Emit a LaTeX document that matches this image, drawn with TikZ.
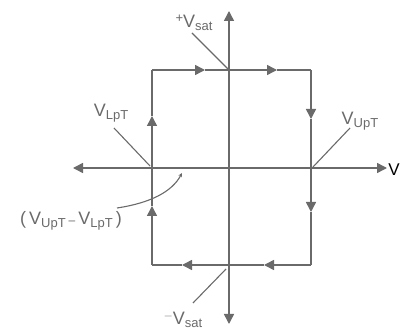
\documentclass[tikz,border=0pt]{standalone}
\usepackage{fontspec}
\setmainfont{Liberation Sans}
\usetikzlibrary{arrows.meta}
\definecolor{ink}{HTML}{6A6A6A}
\newcommand\Vsub[1]{V\raisebox{-0.3ex}{\fontsize{13}{13}\selectfont #1}}
\begin{document}
\begin{tikzpicture}[x=1pt,y=-1pt,
  line/.style={draw=ink,line width=1.5pt},
  tip/.style={-{Triangle[length=10pt,width=10pt]}},
  lead/.style={draw=ink,line width=1.1pt},
  lbl/.style={text=ink,font=\fontsize{18}{18}\selectfont,inner sep=0pt}]
\useasboundingbox (0,0) rectangle (402,331);
% axes
\coordinate (ytop) at (229,11);
\coordinate (ybot) at (229,324);
\coordinate (xl) at (73,168);
\coordinate (xr) at (387,168);
\draw[line,{Triangle[length=10pt,width=10pt]}-{Triangle[length=10pt,width=10pt]}] (ybot) -- (ytop);
\draw[line,{Triangle[length=10pt,width=10pt]}-{Triangle[length=10pt,width=10pt]}] (xl) -- (xr);
% loop corners
\coordinate (TL) at (152,70);
\coordinate (TR) at (311,70);
\coordinate (BR) at (311,265);
\coordinate (BL) at (152,265);
% arrow positions
\coordinate (t1) at (205,70);
\coordinate (t2) at (277,70);
\coordinate (r1) at (311,119);
\coordinate (r2) at (311,212);
\coordinate (b1) at (264,265);
\coordinate (b2) at (182,265);
\coordinate (l1) at (152,206);
\coordinate (l2) at (152,116);
\draw[line,tip] (TL) -- (t1);
\draw[line,tip] (t1) -- (t2);
\draw[line] (t2) -- (TR);
\draw[line,tip] (TR) -- (r1);
\draw[line,tip] (r1) -- (r2);
\draw[line] (r2) -- (BR);
\draw[line,tip] (BR) -- (b1);
\draw[line,tip] (b1) -- (b2);
\draw[line] (b2) -- (BL);
\draw[line,tip] (BL) -- (l1);
\draw[line,tip] (l1) -- (l2);
\draw[line] (l2) -- (TL);
% labels
\node[lbl] (vsp) at (194,23) {\raisebox{0.55ex}{\fontsize{13}{13}\selectfont +}\Vsub{sat}};
\node[lbl] (vsn) at (183,320) {\raisebox{0.55ex}{\fontsize{13}{13}\selectfont $-$}\Vsub{sat}};
\node[lbl] (vl) at (111,113) {\Vsub{LpT}};
\node[lbl] (vu) at (360,121) {\Vsub{UpT}};
\node[lbl] (dv) at (71,221) {(\,\Vsub{UpT}\,{\fontsize{12}{12}\selectfont --}\,\Vsub{LpT}\,)};
\node[inner sep=0pt,font=\fontsize{17}{17}\selectfont] (vx) at (394,170) {V};
% leaders
\coordinate (a1) at (192,33);
\coordinate (a2) at (114,128);
\coordinate (a3) at (350,128);
\coordinate (a4) at (193,303);
\coordinate (a5) at (117,208);
\coordinate (p1) at (228,69);
\coordinate (p2) at (150,166);
\coordinate (p3) at (313,167);
\coordinate (p4) at (226,269);
\coordinate (p5) at (182,173);
\draw[lead] (a1) -- (p1);
\draw[lead] (a2) -- (p2);
\draw[lead] (a3) -- (p3);
\draw[lead] (a4) -- (p4);
\draw[lead,-{Stealth[length=4pt,width=4pt]}] (a5) .. controls (150,203) and (172,192) .. (p5);
\end{tikzpicture}
\end{document}
